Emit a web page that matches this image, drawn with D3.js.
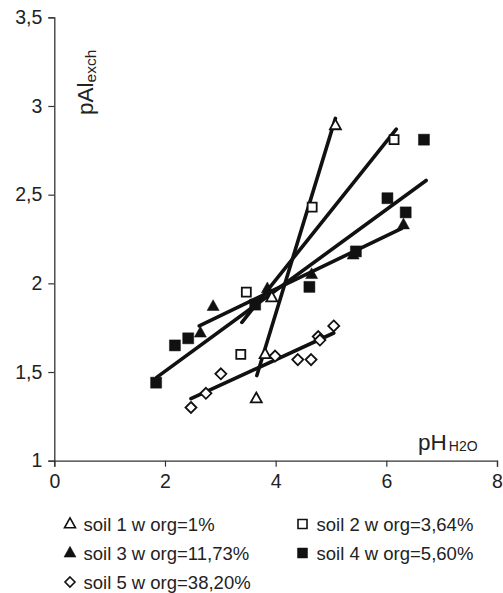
<!DOCTYPE html>
<html><head><meta charset="utf-8">
<script src="https://cdn.jsdelivr.net/npm/d3@7"></script>
<style>
body{margin:0;background:#fff;}
text{font-family:"Liberation Sans",Arial,Helvetica,sans-serif;fill:#222;}
</style></head>
<body><svg id="c" width="503" height="593"></svg>
<script>
// ---- data ----
const xTicks = [0, 2, 4, 6, 8];
const yTicks = [1, 1.5, 2, 2.5, 3, 3.5];
const yTickLabels = ["1", "1,5", "2", "2,5", "3", "3,5"];

const soil1 = [[3.65,1.35],[3.81,1.60],[3.93,1.92],[5.08,2.89]];
const soil2 = [[3.37,1.60],[3.47,1.95],[4.66,2.43],[6.14,2.81]];
const soil3 = [[2.64,1.72],[2.87,1.87],[3.85,1.97],[4.65,2.05],[5.40,2.16],[6.31,2.33]];
const soil4 = [[1.84,1.44],[2.18,1.65],[2.42,1.69],[3.63,1.88],[4.61,1.98],[5.45,2.18],[6.02,2.48],[6.35,2.40],[6.68,2.81]];
const soil5 = [[2.47,1.30],[2.74,1.38],[3.01,1.49],[3.99,1.59],[4.40,1.57],[4.64,1.57],[4.77,1.70],[4.80,1.68],[5.05,1.76]];

// fitted trend lines: [x1,y1,x2,y2]
const line1 = [3.66,1.48,5.08,2.93];
const line2 = [3.39,1.78,6.18,2.87];
const line3 = [2.62,1.76,6.28,2.31];
const line4 = [1.85,1.47,6.72,2.58];
const line5 = [2.47,1.35,5.05,1.72];

const legendLabels = ["soil 1 w org=1%","soil 2 w org=3,64%","soil 3 w org=11,73%","soil 4 w org=5,60%","soil 5 w org=38,20%"];

// ---- drawing ----
const svg = d3.select("#c");
const x = d3.scaleLinear().domain([0,8]).range([54.3,497]);
const y = d3.scaleLinear().domain([1,3.5]).range([460.7,17.3]);

// trend lines
const lines = [line1,line2,line3,line4,line5];
svg.append("g").selectAll("line").data(lines).join("line")
  .attr("x1",d=>x(d[0])).attr("y1",d=>y(d[1]))
  .attr("x2",d=>x(d[2])).attr("y2",d=>y(d[3]))
  .attr("stroke","#111").attr("stroke-width",3.6).attr("stroke-linecap","round");

// marker shapes
function tri(s){const h=s*0.9;return `M0,${-h*0.62}L${s/2},${h*0.38}L${-s/2},${h*0.38}Z`;}
function sq(s){return `M${-s/2},${-s/2}h${s}v${s}h${-s}Z`;}
function dia(s){return `M0,${-s/2}L${s/2},0L0,${s/2}L${-s/2},0Z`;}

const series = [
  {data:soil1, path:tri(11), fill:"#fff", sw:1.8},
  {data:soil2, path:sq(9), fill:"#fff", sw:1.8},
  {data:soil3, path:tri(12), fill:"#111", sw:0.5},
  {data:soil4, path:sq(11), fill:"#111", sw:0.5},
  {data:soil5, path:dia(11), fill:"#fff", sw:1.8}
];
series.forEach(s=>{
  svg.append("g").selectAll("path").data(s.data).join("path")
    .attr("d",s.path).attr("transform",d=>`translate(${x(d[0])},${y(d[1])})`)
    .attr("fill",s.fill).attr("stroke","#111").attr("stroke-width",s.sw)
    .attr("stroke-linejoin","miter");
});

// axes
const xAxis = svg.append("g").attr("transform",`translate(0,${y(1)})`)
  .call(d3.axisBottom(x).tickValues(xTicks).tickSize(6).tickPadding(4));
const yAxis = svg.append("g").attr("transform",`translate(${x(0)},0)`)
  .call(d3.axisLeft(y).tickValues(yTicks).tickSize(6).tickPadding(6).tickFormat((d,i)=>yTickLabels[i]));
[xAxis,yAxis].forEach(a=>{
  a.select(".domain").attr("stroke","#333").attr("stroke-width",1.3);
  a.selectAll(".tick line").attr("stroke","#333").attr("stroke-width",1.2);
  a.selectAll(".tick text").attr("font-size",19.5).attr("fill","#222")
    .style("font-family",'"Liberation Sans",Arial,sans-serif');
});
xAxis.selectAll(".tick text").attr("dy","0.9em");

// axis titles
const yt = svg.append("text").attr("transform","translate(93,115) rotate(-90)").attr("font-size",22.5);
yt.append("tspan").text("pAl");
yt.append("tspan").attr("font-size",15.5).attr("dy",2.5).text("exch");

const xt = svg.append("text").attr("x",418).attr("y",449.5).attr("font-size",22.5);
xt.append("tspan").text("pH");
xt.append("tspan").attr("font-size",14).attr("dx",2).attr("dy",1).text("H2O");

// legend
const legPos = [[70,83.5,524],[302.5,316.5,524],[70,83.5,553],[302.5,316.5,553],[70,83.5,582]];
const legShapes = [
  {path:tri(11),fill:"#fff",sw:1.6},
  {path:sq(9),fill:"#fff",sw:1.6},
  {path:tri(12),fill:"#111",sw:0.5},
  {path:sq(10),fill:"#111",sw:0.5},
  {path:dia(10),fill:"#fff",sw:1.6}
];
const lg = svg.append("g");
legendLabels.forEach((t,i)=>{
  const p = legPos[i], s = legShapes[i];
  lg.append("path").attr("d",s.path).attr("transform",`translate(${p[0]},${p[2]})`)
    .attr("fill",s.fill).attr("stroke","#111").attr("stroke-width",s.sw);
  lg.append("text").attr("x",p[1]).attr("y",p[2]+6.5).attr("font-size",18.5).text(t);
});
</script></body></html>
